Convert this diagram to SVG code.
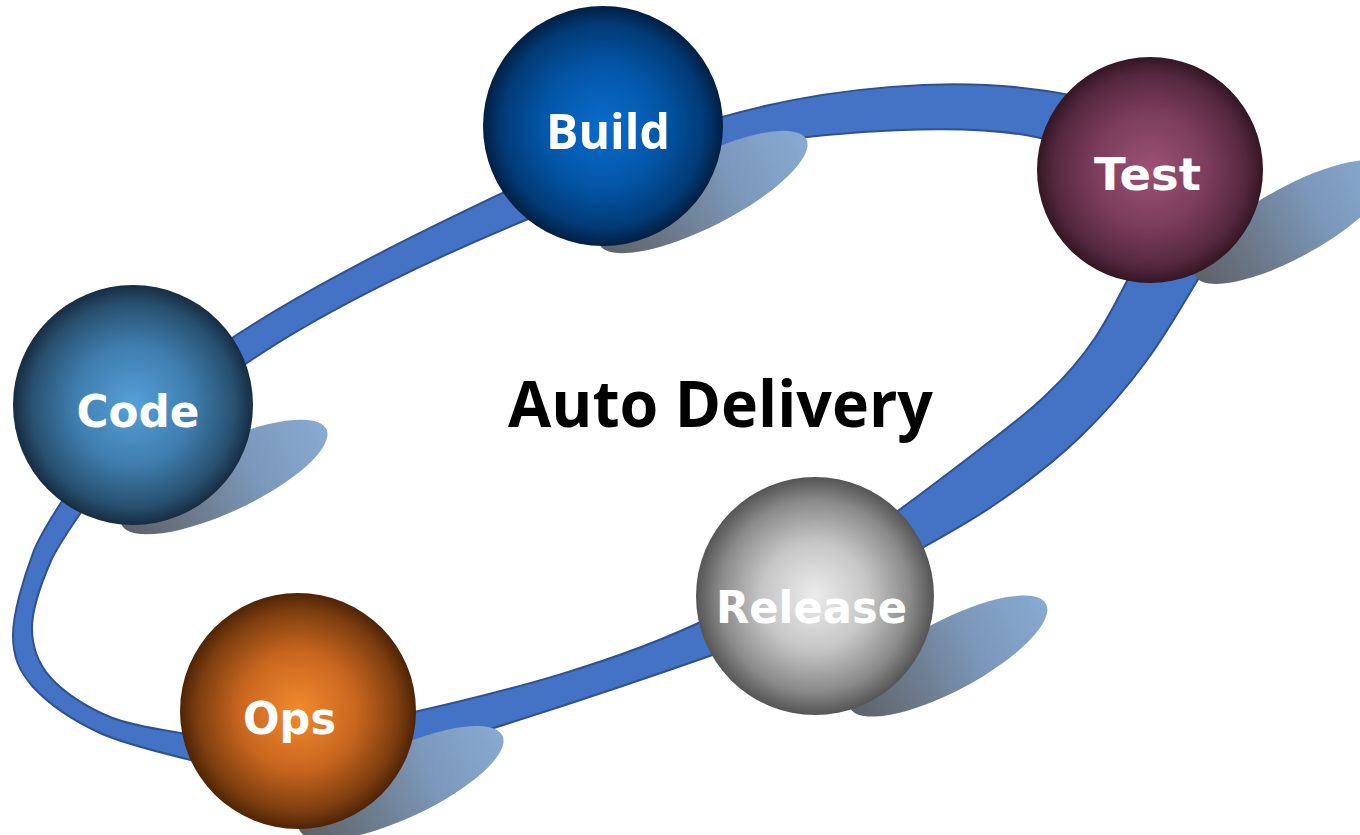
<svg xmlns="http://www.w3.org/2000/svg" width="1360" height="835" viewBox="0 0 1360 835">
  <defs>
    <linearGradient id="shadowGrad" x1="0" y1="0" x2="1" y2="0">
      <stop offset="0" stop-color="#5e6167"/>
      <stop offset="0.3" stop-color="#6c7a8b"/>
      <stop offset="0.65" stop-color="#7c99bc"/>
      <stop offset="1" stop-color="#88aad1"/>
    </linearGradient>
    <radialGradient id="gCode" cx="50%" cy="50%" r="50%">
      <stop offset="0" stop-color="#56a0d9"/>
      <stop offset="0.5" stop-color="#3f7dae"/>
      <stop offset="0.85" stop-color="#28506f"/>
      <stop offset="1" stop-color="#172c42"/>
    </radialGradient>
    <radialGradient id="gBuild" cx="50%" cy="50%" r="50%">
      <stop offset="0" stop-color="#0a6ccb"/>
      <stop offset="0.5" stop-color="#0356a8"/>
      <stop offset="0.85" stop-color="#023a75"/>
      <stop offset="1" stop-color="#011f42"/>
    </radialGradient>
    <radialGradient id="gTest" cx="50%" cy="50%" r="50%">
      <stop offset="0" stop-color="#9c5276"/>
      <stop offset="0.5" stop-color="#7c3d5c"/>
      <stop offset="0.85" stop-color="#55283f"/>
      <stop offset="1" stop-color="#331624"/>
    </radialGradient>
    <radialGradient id="gRelease" cx="50%" cy="50%" r="50%">
      <stop offset="0" stop-color="#ececec"/>
      <stop offset="0.45" stop-color="#c6c6c6"/>
      <stop offset="0.8" stop-color="#8a8a8a"/>
      <stop offset="1" stop-color="#555555"/>
    </radialGradient>
    <radialGradient id="gOps" cx="50%" cy="50%" r="50%">
      <stop offset="0" stop-color="#f28a2e"/>
      <stop offset="0.5" stop-color="#c8661f"/>
      <stop offset="0.85" stop-color="#7e3e10"/>
      <stop offset="1" stop-color="#4e2406"/>
    </radialGradient>
  </defs>
  <style>
    .band { fill: #4472c4; stroke: #2f528f; stroke-width: 2; fill-rule: evenodd; stroke-linejoin: round; }
    .shadow { fill: url(#shadowGrad); }
    .label { font-family: "DejaVu Sans", Verdana, sans-serif; font-weight: bold; font-size: 44px; fill: #ffffff; text-anchor: middle; }
    .label2 { font-family: "Open Sans", "DejaVu Sans", sans-serif; font-weight: bold; font-size: 48px; fill: #ffffff; text-anchor: middle; }
    .title { font-family: "Open Sans", "Liberation Sans", sans-serif; font-weight: bold; font-size: 64px; fill: #000000; text-anchor: middle; }
  </style>
  <rect width="1360" height="835" fill="#ffffff"/>

  <g id="connectors">
    <path class="band" d="M715,119 C820,88 960,72 1075,96
      L1206,266 C1196,282 1168,332 1147,360 C1126,389 1105,413 1080,437 C1055,461 1025,484 997,503 C970,522 929,544 915,552
      L724,651 C622,687 503,726 400,757
      L202,763 C185,758 128,746 100,733 C72,720 48,703 33,687 C19,671 13,657 13,635 C13,613 24,577 33,553 C42,529 63,501 69,490
      L223,344 C307,287 424,230 513,188 Z
      M712,150 C820,132 980,118 1055,142
      L1133,269 C1127,281 1109,317 1095,338 C1081,359 1066,376 1047,394 C1028,413 1006,429 980,449 C954,469 906,505 891,516
      L711,617 C617,663 504,692 401,715
      L192,735 C178,732 134,727 110,717 C86,707 63,692 50,677 C37,662 32,647 32,628 C32,609 41,584 50,563 C59,542 82,512 88,502
      L237,370 C321,310 447,252 538,215 Z"/>
  </g>

  <g id="node-build">
    <ellipse class="shadow" cx="703" cy="192" rx="116" ry="35" transform="rotate(-27 703 192)"/>
    <circle cx="603" cy="126" r="120" fill="url(#gBuild)"/>
    <text class="label2" x="608" y="149" textLength="124" lengthAdjust="spacingAndGlyphs">Build</text>
  </g>

  <g id="node-test">
    <ellipse class="shadow" cx="1292" cy="222" rx="111" ry="35" transform="rotate(-29 1292 222)"/>
    <circle cx="1150" cy="170" r="113" fill="url(#gTest)"/>
    <text class="label" x="1147.5" y="190" textLength="107" lengthAdjust="spacingAndGlyphs">Test</text>
  </g>

  <g id="node-code">
    <ellipse class="shadow" cx="224" cy="477" rx="113" ry="35" transform="rotate(-25 224 477)"/>
    <circle cx="133" cy="405" r="120" fill="url(#gCode)"/>
    <text class="label" x="138" y="427" textLength="123" lengthAdjust="spacingAndGlyphs">Code</text>
  </g>

  <g id="node-release">
    <ellipse class="shadow" cx="948" cy="656" rx="111" ry="35" transform="rotate(-28 948 656)"/>
    <circle cx="815" cy="596" r="119" fill="url(#gRelease)"/>
    <text class="label" x="811.5" y="623" textLength="191" lengthAdjust="spacingAndGlyphs">Release</text>
  </g>

  <g id="node-ops">
    <ellipse class="shadow" cx="401" cy="783" rx="112" ry="35" transform="rotate(-25 401 783)"/>
    <circle cx="298" cy="711" r="118" fill="url(#gOps)"/>
    <text class="label" x="289.5" y="734" textLength="93" lengthAdjust="spacingAndGlyphs">Ops</text>
  </g>

  <g id="title">
    <text class="title" x="720.5" y="427" textLength="425" lengthAdjust="spacingAndGlyphs">Auto Delivery</text>
  </g>
</svg>
